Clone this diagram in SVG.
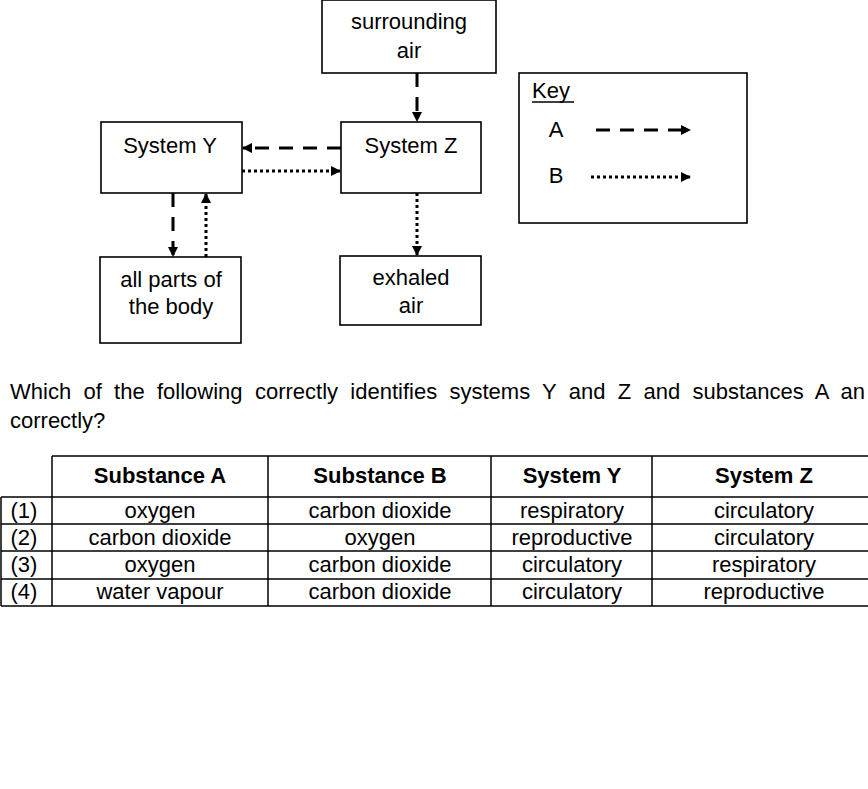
<svg xmlns="http://www.w3.org/2000/svg" width="868" height="789" viewBox="0 0 868 789">
<defs>
<style>
text{font-family:"Liberation Sans",Arial,sans-serif;font-size:22px;fill:#000}
.c{text-anchor:middle}
.h{font-weight:bold}
.box{fill:#fff;stroke:#000;stroke-width:1.6}
.dash{fill:none;stroke:#000;stroke-width:3;stroke-dasharray:14 10}
.dot{fill:none;stroke:#000;stroke-width:3;stroke-dasharray:3 3}
.tl{stroke:#000;stroke-width:1.5;fill:none}
</style>
<marker id="ah" markerWidth="10" markerHeight="10" refX="9" refY="5" orient="auto" markerUnits="userSpaceOnUse">
<path d="M0,0 L10,5 L0,10 Z" fill="#000"/>
</marker>
</defs>
<rect width="868" height="789" fill="#fff"/>

<g id="surrounding-air">
<rect class="box" x="322" y="0" width="174" height="73"/>
<text class="c" x="409" y="29">surrounding</text>
<text class="c" x="409" y="58">air</text>
</g>
<g id="system-y">
<rect class="box" x="101" y="122" width="141" height="71"/>
<text class="c" x="170" y="153">System Y</text>
</g>
<g id="system-z">
<rect class="box" x="341" y="122" width="140" height="71"/>
<text class="c" x="411" y="153">System Z</text>
</g>
<g id="all-parts">
<rect class="box" x="100" y="257" width="141" height="86"/>
<text class="c" x="171" y="287">all parts of</text>
<text class="c" x="171" y="314">the body</text>
</g>
<g id="exhaled-air">
<rect class="box" x="340" y="256" width="141" height="69"/>
<text class="c" x="411" y="285">exhaled</text>
<text class="c" x="411" y="313">air</text>
</g>
<g id="key">
<rect class="box" x="519" y="73" width="228" height="150"/>
<text x="532" y="98">Key</text>
<line x1="532" y1="102" x2="574" y2="102" stroke="#000" stroke-width="1.5"/>
<text class="c" x="556" y="137">A</text>
<text class="c" x="556" y="183">B</text>
<line class="dash" x1="596" y1="130" x2="690" y2="130" marker-end="url(#ah)"/>
<line class="dot" x1="591" y1="177" x2="690" y2="177" marker-end="url(#ah)"/>
</g>

<g id="connectors">
<line class="dash" x1="417" y1="73" x2="417" y2="121" marker-end="url(#ah)"/>
<line class="dash" x1="341" y1="148" x2="243" y2="148" marker-end="url(#ah)"/>
<line class="dot" x1="242" y1="171" x2="340" y2="171" marker-end="url(#ah)"/>
<line class="dash" x1="173" y1="193" x2="173" y2="256" marker-end="url(#ah)"/>
<line class="dot" x1="206" y1="257" x2="206" y2="194" marker-end="url(#ah)"/>
<line class="dot" x1="417" y1="193" x2="417" y2="255" marker-end="url(#ah)"/>
</g>

<g id="question">
<text x="10" y="399" style="word-spacing:6.2px">Which of the following correctly identifies systems Y and Z and substances A an</text>
<text x="10" y="428">correctly?</text>
</g>

<g id="table">
<path class="tl" d="M52,456 H868 M1,497 H868 M1,524 H868 M1,551 H868 M1,579 H868 M1,606 H868 M1,497 V606 M52,456 V606 M268,456 V606 M491,456 V606 M652,456 V606"/>
<text class="c h" x="160" y="483">Substance A</text>
<text class="c h" x="380" y="483">Substance B</text>
<text class="c h" x="572" y="483">System Y</text>
<text class="c h" x="764" y="483">System Z</text>
<text class="c" x="24" y="518">(1)</text>
<text class="c" x="160" y="518">oxygen</text>
<text class="c" x="380" y="518">carbon dioxide</text>
<text class="c" x="572" y="518">respiratory</text>
<text class="c" x="764" y="518">circulatory</text>
<text class="c" x="24" y="545">(2)</text>
<text class="c" x="160" y="545">carbon dioxide</text>
<text class="c" x="380" y="545">oxygen</text>
<text class="c" x="572" y="545">reproductive</text>
<text class="c" x="764" y="545">circulatory</text>
<text class="c" x="24" y="572">(3)</text>
<text class="c" x="160" y="572">oxygen</text>
<text class="c" x="380" y="572">carbon dioxide</text>
<text class="c" x="572" y="572">circulatory</text>
<text class="c" x="764" y="572">respiratory</text>
<text class="c" x="24" y="599">(4)</text>
<text class="c" x="160" y="599">water vapour</text>
<text class="c" x="380" y="599">carbon dioxide</text>
<text class="c" x="572" y="599">circulatory</text>
<text class="c" x="764" y="599">reproductive</text>
</g>
</svg>
